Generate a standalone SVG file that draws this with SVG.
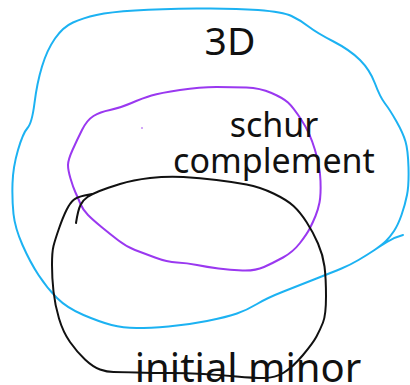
<svg xmlns="http://www.w3.org/2000/svg" width="410" height="385" viewBox="0 0 410 385">
<style>
.s{fill:none;stroke-width:2;stroke-linecap:round;stroke-linejoin:round}
.b{stroke:#1cb2f2}
.p{stroke:#9a38f0}
.k{stroke:#111}
text{font-family:"Noto Sans","Open Sans",sans-serif;fill:#111}
</style>
<rect width="410" height="385" fill="#fff"/>
<g id="connectors">
<path id="set-3d" class="s b" d="M12.5,183.5 Q13,167 18,150 Q23,133 27.5,128 Q32,123 34.5,103 Q37,83 42,66.5 Q47,50 55,38.5 Q63,27 73,22.5 Q83,18 96.5,15 Q110,12 135,10.5 Q160,9 196.5,8.5 Q233,8 258,10 Q283,12 291.5,16 Q300,20 308.5,26.5 Q317,33 333.5,41.5 Q350,50 360,60 Q370,70 375,83.5 Q380,97 385,103.5 Q390,110 396.5,121.5 Q403,133 405.5,141.5 Q408,150 408.5,167.5 Q409,185 407,195 Q405,205 401.5,215 Q398,225 394,231 Q390,237 386,241 Q382,245 374.5,250 Q367,255 358.5,260 Q350,265 341.5,268.5 Q333,272 316.5,278.5 Q300,285 283.5,291.5 Q267,298 257,304 Q247,310 237,313.5 Q227,317 207,321 Q187,325 168.5,326.5 Q150,328 136.5,328 Q123,328 111.5,325 Q100,322 83.5,315 Q67,308 57,298 Q47,288 38.5,275 Q30,262 22.5,245 Q15,228 13.5,214 Q12,200 12.5,183.5 Z M403,235 Q395,237 387,242 L379,247"/>
<path id="set-schur" class="s p" d="M131.5,103 Q143,98 151.5,95.5 Q160,93 180,90 Q200,87 216.5,87 Q233,87 246.5,87.5 Q260,88 271.5,93 Q283,98 288,102.5 Q293,107 301.5,120 Q310,133 315,150 Q320,167 320.5,181 Q321,195 319.5,202.5 Q318,210 315.5,216 Q313,222 310,228 Q307,234 300,243 Q293,252 283,257.5 Q273,263 264,267 Q255,271 242.5,270.5 Q230,270 218.5,268.5 Q207,267 197,265 Q187,263 177,262.5 Q167,262 155,257.5 Q143,253 135,250 Q127,247 118.5,240.5 Q110,234 101.5,227 Q93,220 88,215 Q83,210 80.5,204 Q78,198 75.5,192.5 Q73,187 70.5,178.5 Q68,170 68,165 Q68,160 72.5,150 Q77,140 82,130 Q87,120 93.5,116 Q100,112 110,110 Q120,108 131.5,103 Z"/>
<path id="set-minor" class="s k" d="M76,223 Q78,210 80.5,205 Q83,200 87.5,197 Q92,194 99.5,191 Q107,188 120,184 Q133,180 150,178 Q167,176 183.5,177 Q200,178 216.5,180 Q233,182 246.5,184.5 Q260,187 273.5,193.5 Q287,200 293.5,206 Q300,212 306.5,222 Q313,232 318,243.5 Q323,255 324.5,266.5 Q326,278 326,296.5 Q326,315 323,322.5 Q320,330 316.5,336.5 Q313,343 303,355 Q293,367 284,372.5 Q275,378 264,378 Q253,378 236.5,376.5 Q220,375 203.5,374 Q187,373 170,373 Q153,373 136.5,372.5 Q120,372 113.5,372 Q107,372 100,369.5 Q93,367 85,359.5 Q77,352 70,342 Q63,332 59,318.5 Q55,305 53.5,291.5 Q52,278 52,265 Q52,252 53.5,246 Q55,240 59,228.5 Q63,217 66.5,210 Q70,203 73.5,200 Q77,197 84.5,195.5 L92,194"/>
<circle cx="142" cy="128" r="0.8" fill="#9a38f0"/>
</g>
<g id="label-3d"><text x="230" y="55" font-size="39" text-anchor="middle">3D</text></g>
<g id="label-schur"><text x="274" y="137" font-size="34" text-anchor="middle">schur</text><text x="274" y="173" font-size="34" text-anchor="middle">complement</text></g>
<g id="label-minor"><text x="248" y="382" font-size="40" text-anchor="middle">initial minor</text></g>
</svg>
